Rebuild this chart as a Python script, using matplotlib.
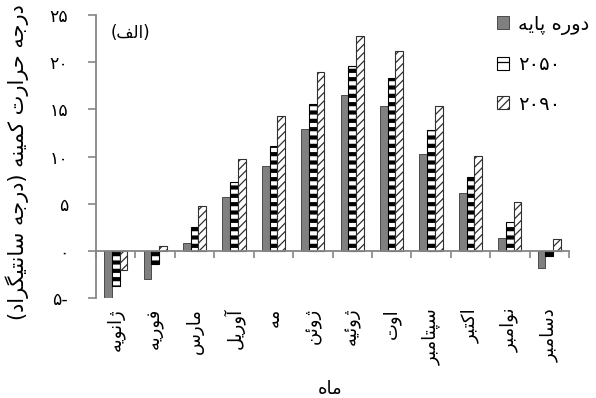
import numpy as np
import matplotlib
matplotlib.use("Agg")
import matplotlib.pyplot as plt

# monthly minimum temperature (deg C)
months = ["ژانویه", "فوریه", "مارس", "آوریل", "مه", "ژوئن",
          "ژوئیه", "اوت", "سپتامبر", "اکتبر", "نوامبر", "دسامبر"]
base = [-5.0, -3.0, 0.8, 5.7, 9.0, 12.9, 16.5, 15.4, 10.3, 6.1, 1.4, -1.8]
y2050 = [-3.7, -1.4, 2.5, 7.3, 11.1, 15.6, 19.6, 18.3, 12.8, 7.8, 3.1, -0.5]
y2090 = [-2.0, 0.5, 4.8, 9.7, 14.3, 19.0, 22.8, 21.2, 15.4, 10.1, 5.2, 1.3]
series_names = ["دوره پایه", "۲۰۵۰", "۲۰۹۰"]
yticks = [-5, 0, 5, 10, 15, 20, 25]
ytick_labels = ["۵-", "۰", "۵", "۱۰", "۱۵", "۲۰", "۲۵"]
ylabel = "درجه حرارت کمینه (درجه سانتیگراد)"
xlabel = "ماه"
panel = "(الف)"

# --- tiny Persian shaper (matplotlib has no bidi / joining) ---
# value: (first presentation form code, number of forms) ; 4 = dual joining
FORMS = {
    'ا': (0xFE8D, 2), 'آ': (0xFE81, 2), 'ب': (0xFE8F, 4), 'پ': (0xFB56, 4),
    'ت': (0xFE95, 4), 'ث': (0xFE99, 4), 'ج': (0xFE9D, 4), 'چ': (0xFB7A, 4),
    'ح': (0xFEA1, 4), 'خ': (0xFEA5, 4), 'د': (0xFEA9, 2), 'ذ': (0xFEAB, 2),
    'ر': (0xFEAD, 2), 'ز': (0xFEAF, 2), 'ژ': (0xFB8A, 2), 'س': (0xFEB1, 4),
    'ش': (0xFEB5, 4), 'ص': (0xFEB9, 4), 'ض': (0xFEBD, 4), 'ط': (0xFEC1, 4),
    'ظ': (0xFEC5, 4), 'ع': (0xFEC9, 4), 'غ': (0xFECD, 4), 'ف': (0xFED1, 4),
    'ق': (0xFED5, 4), 'ک': (0xFB8E, 4), 'گ': (0xFB92, 4), 'ل': (0xFEDD, 4),
    'م': (0xFEE1, 4), 'ن': (0xFEE5, 4), 'ه': (0xFEE9, 4), 'و': (0xFEED, 2),
    'ی': (0xFBFC, 4), 'ئ': (0xFE89, 4), 'ؤ': (0xFE85, 2),
}


def fa(text):
    if not any(c in FORMS for c in text):
        return text
    out = []
    for i, c in enumerate(text):
        if c not in FORMS:
            out.append(c)
            continue
        start, n = FORMS[c]
        prev = text[i - 1] if i > 0 else ''
        nxt = text[i + 1] if i + 1 < len(text) else ''
        join_prev = prev in FORMS and FORMS[prev][1] == 4
        join_next = n == 4 and nxt in FORMS
        if join_prev and join_next:
            k = 3
        elif join_prev:
            k = 1
        elif join_next:
            k = 2
        else:
            k = 0
        out.append(chr(start + k))
    vis = ''.join(reversed(out))
    return vis.translate(str.maketrans("()", ")("))


plt.rcParams['font.family'] = ['DejaVu Sans']

fig = plt.figure(figsize=(5.96, 3.98), dpi=100)
ax = fig.add_axes([96 / 596, 1 - 298 / 398, 473 / 596, 283 / 398])

x = np.arange(len(months))
w = 0.196
grey = '#868686'

b1 = ax.bar(x - w, base, w, color='#808080', edgecolor='#4a4a4a', linewidth=0.7,
            label=fa(series_names[0]))
plt.rcParams['hatch.linewidth'] = 3.0
b2 = ax.bar(x, y2050, w, color='white', edgecolor='black', hatch='--',
            linewidth=0.8, label=series_names[1])
plt.rcParams['hatch.linewidth'] = 0.9
b3 = ax.bar(x + w, y2090, w, color='white', edgecolor='#303030', hatch='////',
            linewidth=0.8, label=series_names[2])
for p in b2:
    if hasattr(p, 'set_hatch_linewidth'):
        p.set_hatch_linewidth(3.0)
for p in b3:
    if hasattr(p, 'set_hatch_linewidth'):
        p.set_hatch_linewidth(0.9)

ax.set_xlim(-0.5, len(months) - 0.5)
ax.set_ylim(-5, 25)
ax.spines['top'].set_visible(False)
ax.spines['right'].set_visible(False)
ax.spines['bottom'].set_position(('data', 0))
for s in ('left', 'bottom'):
    ax.spines[s].set_color(grey)
    ax.spines[s].set_linewidth(1.3)

ax.set_yticks(yticks)
ax.set_yticklabels(ytick_labels, fontsize=12.5)
ax.tick_params(axis='y', direction='out', length=6, width=1.2, color=grey, pad=14)
ax.set_xticks(np.arange(len(months) + 1) - 0.5)
ax.set_xticklabels([])
ax.tick_params(axis='x', direction='out', length=5, width=1.2, color=grey)

for i, m in enumerate(months):
    ax.text(i, -0.035, fa(m), transform=ax.get_xaxis_transform(), rotation=90,
            ha='center', va='top', fontsize=13)

ax.text(0.072, 0.936, fa(panel), transform=ax.transAxes, ha='center', va='center',
        fontsize=12)
fig.text(17 / 596, 1 - 162 / 398, fa(ylabel), rotation=90, ha='center', va='center',
         fontsize=15)
fig.text(330 / 596, 1 - 389 / 398, fa(xlabel), ha='center', va='center', fontsize=13)

fig.legend(loc='upper left', bbox_to_anchor=(489 / 596, 1 - 7 / 398), frameon=False,
           fontsize=14, handlelength=0.65, handleheight=0.65, handletextpad=0.45,
           labelspacing=1.05, borderaxespad=0)

fig.savefig('out.png', dpi=100)
